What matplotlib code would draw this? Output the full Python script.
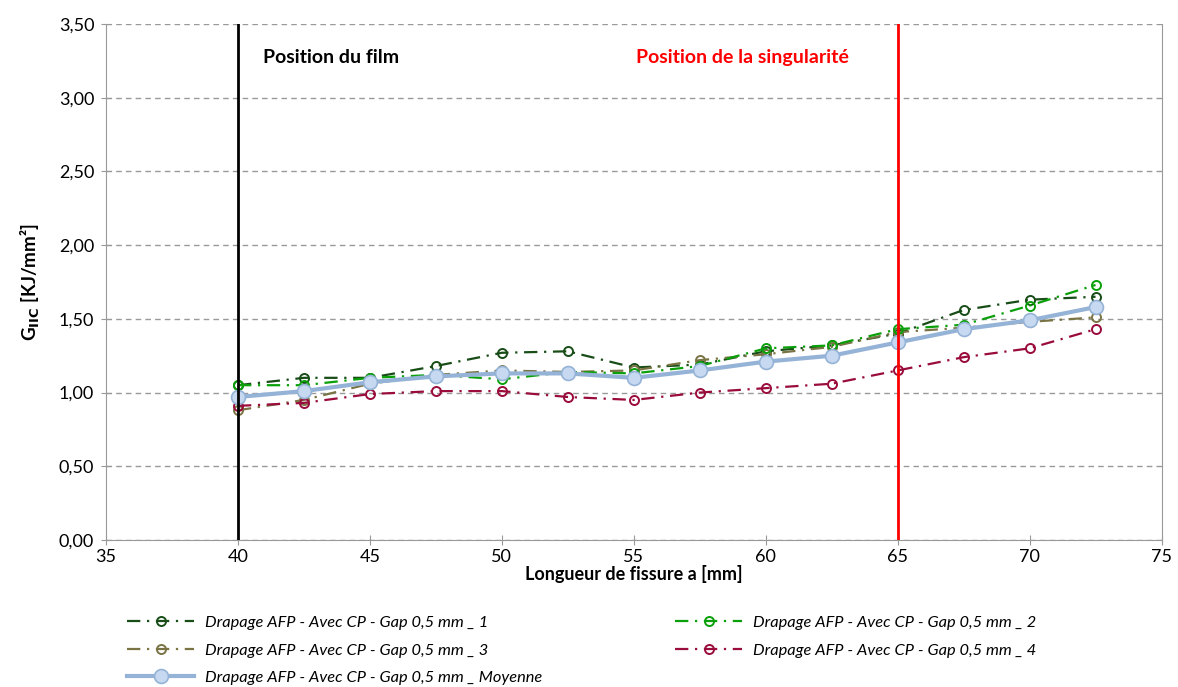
import matplotlib
matplotlib.use("Agg")
import matplotlib.pyplot as plt
from matplotlib.ticker import FuncFormatter, MultipleLocator

plt.rcParams["font.family"] = ["Lato", "DejaVu Sans"]

# ── Data ───────────────────────────────────────────────────────────────────────
crack_len = [40, 42.5, 45, 47.5, 50, 52.5, 55, 57.5, 60, 62.5, 65, 67.5, 70, 72.5]
g_1 = [1.05, 1.10, 1.10, 1.18, 1.27, 1.28, 1.17, 1.19, 1.28, 1.32, 1.40, 1.56, 1.63, 1.65]
g_2 = [1.05, 1.05, 1.10, 1.12, 1.09, 1.14, 1.13, 1.18, 1.30, 1.32, 1.43, 1.46, 1.59, 1.73]
g_3 = [0.88, 0.95, 1.06, 1.12, 1.15, 1.14, 1.15, 1.22, 1.26, 1.31, 1.41, 1.44, 1.48, 1.51]
g_4 = [0.91, 0.93, 0.99, 1.01, 1.01, 0.97, 0.95, 1.00, 1.03, 1.06, 1.15, 1.24, 1.30, 1.43]
g_mean = [0.97, 1.01, 1.07, 1.11, 1.13, 1.13, 1.10, 1.15, 1.21, 1.25, 1.34, 1.43, 1.49, 1.58]

film_pos = 40
singularity_pos = 65
prefix = "Drapage AFP - Avec CP - Gap 0,5 mm _ "

# ── Plot ───────────────────────────────────────────────────────────────────────
fig = plt.figure(figsize=(11.78, 6.87), dpi=100)
ax = fig.add_axes([0.09, 0.214, 0.896, 0.751])

dashdot = (6, 3, 1, 3)
series = [
    (g_1, "#184d18", "1"),
    (g_3, "#7a7445", "3"),
    (g_2, "#0aa00a", "2"),
    (g_4, "#9a0c3c", "4"),
]
handles = {}
for vals, col, tag in series:
    h, = ax.plot(crack_len, vals, color=col, lw=1.6, dashes=dashdot,
                 marker="o", ms=6.5, mfc="none", mec=col, mew=1.4,
                 label=prefix + tag, zorder=3)
    handles[tag] = h

hm, = ax.plot(crack_len, g_mean, color="#95b3d7", lw=3, marker="o", ms=10,
              mfc="#c6d9f1", mec="#95b3d7", mew=1.2, label=prefix + "Moyenne", zorder=4)

ax.axvline(film_pos, color="black", lw=2, zorder=5)
ax.axvline(singularity_pos, color="#ff0000", lw=2, zorder=5)
ax.text(40.95, 3.27, "Position du film", fontsize=14, fontweight="bold",
        color="black", va="center")
ax.text(55.1, 3.27, "Position de la singularité", fontsize=14, fontweight="bold",
        color="#ff0000", va="center")

ax.set_xlim(35, 75)
ax.set_ylim(0, 3.5)
ax.xaxis.set_major_locator(MultipleLocator(5))
ax.yaxis.set_major_locator(MultipleLocator(0.5))
ax.yaxis.set_major_formatter(FuncFormatter(lambda v, p: f"{v:.2f}".replace(".", ",")))
ax.grid(axis="y", color="#999999", ls=(0, (4, 3)), lw=1)
ax.set_axisbelow(True)
for s in ax.spines.values():
    s.set_color("#999999")
ax.spines["top"].set_visible(False)
ax.tick_params(axis="y", direction="inout", length=7, color="#999999", labelsize=13, pad=5)
ax.tick_params(axis="x", direction="inout", length=7, color="#999999", labelsize=13, pad=3)

ax.set_xlabel("Longueur de fissure a [mm]", fontsize=13, fontweight="bold", labelpad=0)
ax.set_ylabel("G$_{\\mathbf{IIC}}$ [KJ/mm²]", fontsize=13.5, fontweight="bold", labelpad=12)

order = [handles["1"], handles["3"], hm, handles["2"], handles["4"]]
fig.legend(handles=order, labels=[h.get_label() for h in order], ncol=2,
           loc="upper left", bbox_to_anchor=(0.108, 0.104), frameon=False,
           prop={"style": "italic", "size": 11.8}, handlelength=4.1,
           handletextpad=0.65, columnspacing=8.1, labelspacing=0.8,
           borderpad=0, borderaxespad=0)

fig.savefig("out.png", dpi=100)
